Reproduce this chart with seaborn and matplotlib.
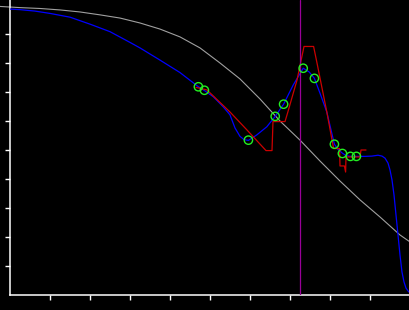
import matplotlib
matplotlib.use("Agg")
import matplotlib.pyplot as plt
import seaborn as sns
import numpy as np

# ---- data ----
gray_x = [-0.25, 0.25, 0.75, 1.25, 1.75, 2.25, 2.75, 3.25, 3.75, 4.25, 4.75, 5.25,
          5.75, 6.25, 6.75, 7.25, 7.75, 8.25, 8.75, 9.25, 9.75, 10.0]
gray_y = [0.995, 0.991, 0.988, 0.983, 0.976, 0.966, 0.955, 0.938, 0.917, 0.890, 0.852, 0.800,
          0.745, 0.676, 0.600, 0.534, 0.462, 0.393, 0.328, 0.269, 0.207, 0.183]

blue_x = [0.0, 0.25, 0.625, 1.0, 1.5, 2.0, 2.5, 3.0, 3.25, 3.75, 4.25, 4.71, 4.86, 5.08,
          5.33, 5.5, 5.625, 5.75, 5.85, 5.96, 6.17, 6.42, 6.63, 6.84, 7.08, 7.33, 7.48,
          7.61, 7.75, 7.92, 8.11, 8.2, 8.31, 8.4, 8.51, 8.66, 8.875, 9.05, 9.2, 9.3,
          9.375, 9.45, 9.5, 9.55, 9.6, 9.65, 9.7, 9.75, 9.8, 9.85, 9.9, 9.95, 10.0]
blue_y = [0.986, 0.984, 0.979, 0.971, 0.958, 0.934, 0.908, 0.871, 0.852, 0.810, 0.767,
          0.718, 0.705, 0.684, 0.649, 0.621, 0.576, 0.547, 0.536, 0.533, 0.552, 0.580,
          0.616, 0.658, 0.724, 0.782, 0.769, 0.747, 0.696, 0.631, 0.520, 0.502, 0.489,
          0.481, 0.478, 0.478, 0.478, 0.479, 0.482, 0.479, 0.472, 0.455, 0.431, 0.397,
          0.345, 0.276, 0.207, 0.138, 0.079, 0.045, 0.024, 0.014, 0.007]

red_x = [4.65, 4.925, 5.5, 5.925, 6.4, 6.55, 6.575, 6.875, 6.94, 7.175, 7.35, 7.59, 7.675,
         7.925, 8.09, 8.24, 8.25, 8.36, 8.39, 8.4, 8.75, 8.775, 8.9]
red_y = [0.716, 0.707, 0.631, 0.569, 0.498, 0.498, 0.598, 0.598, 0.628, 0.741, 0.857, 0.857,
         0.800, 0.628, 0.505, 0.505, 0.445, 0.445, 0.424, 0.476, 0.476, 0.500, 0.500]

pts_x = [4.71, 4.86, 5.96, 6.63, 6.84, 7.33, 7.61, 8.11, 8.31, 8.51, 8.66]
pts_y = [0.718, 0.706, 0.534, 0.616, 0.658, 0.782, 0.747, 0.520, 0.488, 0.478, 0.478]

vline_x = 7.26

x_ticks = [1, 2, 3, 4, 5, 6, 7, 8, 9]
y_ticks = [0.1, 0.2, 0.3, 0.4, 0.5, 0.6, 0.7, 0.8, 0.9]

# ---- style ----
sns.set_style("dark", {"axes.facecolor": "black", "figure.facecolor": "black",
                       "axes.edgecolor": "white", "axes.grid": False,
                       "xtick.color": "white", "ytick.color": "white",
                       "xtick.bottom": True, "ytick.left": True})

fig = plt.figure(figsize=(4.1, 3.1), dpi=100)
fig.patch.set_facecolor("black")
ax = fig.add_axes([10 / 410, 15 / 310, 400 / 410, 295 / 310])
ax.set_facecolor("black")

sns.lineplot(x=gray_x, y=gray_y, ax=ax, color="#a0a0a0", lw=0.8, sort=False,
             estimator=None, clip_on=False, zorder=2)
sns.lineplot(x=blue_x, y=blue_y, ax=ax, color="#0000ff", lw=0.9, sort=False,
             estimator=None, zorder=3)
sns.lineplot(x=red_x, y=red_y, ax=ax, color="#cc0000", lw=0.9, sort=False,
             estimator=None, zorder=4)
ax.axvline(vline_x, color="#990099", lw=0.9, zorder=5)
sns.scatterplot(x=pts_x, y=pts_y, ax=ax, marker="o", s=36, facecolor="none",
                edgecolor="#22ee22", linewidth=1.0, zorder=6)

ax.set_xlim(0, 10)
ax.set_ylim(0, 295 / 290)
ax.set_xticks(x_ticks)
ax.set_yticks(y_ticks)
ax.set_xticklabels([])
ax.set_yticklabels([])
ax.tick_params(axis="both", direction="out", length=3.5, width=1.0, color="white")
sns.despine(ax=ax)
for s in ["left", "bottom"]:
    ax.spines[s].set_color("white")
    ax.spines[s].set_linewidth(1.1)
ax.set_xlabel("")
ax.set_ylabel("")

fig.savefig("out.png", dpi=100, facecolor="black")
